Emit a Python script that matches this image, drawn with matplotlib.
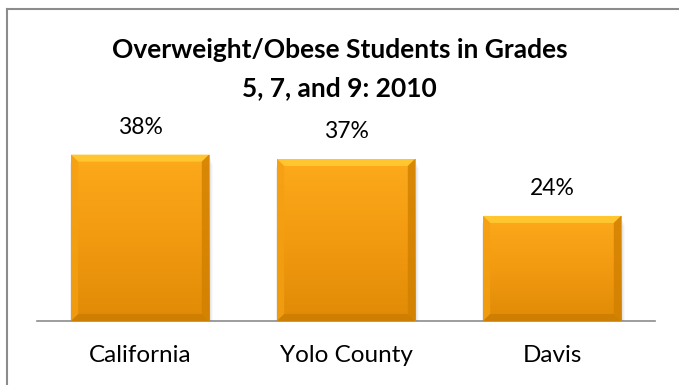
import numpy as np
import matplotlib.pyplot as plt
from matplotlib.patches import Polygon, Rectangle
from matplotlib.colors import LinearSegmentedColormap
from matplotlib.lines import Line2D

regions = ['California', 'Yolo County', 'Davis']
pct = [38, 37, 24]
labels = ['38%', '37%', '24%']

plt.rcParams['font.family'] = ['Lato', 'DejaVu Sans']

fig = plt.figure(figsize=(6.79, 3.85), dpi=100)
ax = fig.add_axes([37 / 679, 64 / 385, 618 / 679, 197 / 385])

x = np.arange(len(regions))
width = 0.67
ylim_top = 45

# body gradient, lighter at the top
body = LinearSegmentedColormap.from_list('body', ['#e08a06', '#f29a10', '#fdaa1c'])
grad = np.linspace(0, 1, 256).reshape(-1, 1)

bars = ax.bar(x, pct, width, color='#f5a015', zorder=3, linewidth=0)

for b in bars:
    x0, w, h = b.get_x(), b.get_width(), b.get_height()
    x1 = x0 + w
    # soft shadow under the bar
    for k, a in enumerate([0.10, 0.07, 0.05, 0.03]):
        ax.add_patch(Rectangle((x0 + 0.005 - k * 0.004, -0.6 - k * 0.5),
                               w + k * 0.008, h, color='#505050',
                               alpha=a, lw=0, zorder=2))
    im = ax.imshow(grad, cmap=body, extent=(x0, x1, 0, h), origin='lower',
                   aspect='auto', zorder=3.5)
    im.set_clip_path(b)

    # bevel edges
    bx, by = 0.035, 1.6
    top = Polygon([(x0, h), (x1, h), (x1 - bx, h - by), (x0 + bx, h - by)],
                  closed=True, color='#ffc630', lw=0, zorder=4)
    left = Polygon([(x0, h), (x0 + bx, h - by), (x0 + bx, by), (x0, 0)],
                   closed=True, color='#f4a012', lw=0, zorder=4, alpha=0.8)
    right = Polygon([(x1, h), (x1 - bx, h - by), (x1 - bx, by), (x1, 0)],
                    closed=True, color='#d08000', lw=0, zorder=4, alpha=0.8)
    bottom = Polygon([(x0, 0), (x1, 0), (x1 - bx, by), (x0 + bx, by)],
                     closed=True, color='#c87a00', lw=0, zorder=4, alpha=0.75)
    for p in (top, left, right, bottom):
        ax.add_patch(p)

for xi, v, t in zip(x, pct, labels):
    ax.annotate(t, (xi, v), xytext=(0, 12), textcoords='offset points',
                ha='center', va='bottom', fontsize=16.5, color='#000000')

ax.set_xlim(-0.5, 2.5)
ax.set_ylim(0, ylim_top)
ax.set_yticks([])
ax.set_xticks(x)
ax.set_xticklabels(regions, fontsize=17.5)
ax.tick_params(axis='x', length=0, pad=17)
for s in ['top', 'right', 'left']:
    ax.spines[s].set_visible(False)
ax.spines['bottom'].set_color('#8c8c8c')
ax.spines['bottom'].set_linewidth(1.2)
ax.spines['bottom'].set_zorder(1)

fig.text(0.5, 1 - 50 / 385, 'Overweight/Obese Students in Grades',
         ha='center', va='center', fontsize=19, fontweight='bold')
fig.text(0.5, 1 - 88 / 385, '5, 7, and 9: 2010',
         ha='center', va='center', fontsize=19, fontweight='bold')

# chart frame, left and top edges
fig.add_artist(Line2D([6.5 / 679, 6.5 / 679], [0, 1 - 9 / 385],
                      color='#8c8c8c', lw=1.5, transform=fig.transFigure))
fig.add_artist(Line2D([6.5 / 679, 1], [1 - 9 / 385, 1 - 9 / 385],
                      color='#8c8c8c', lw=1.5, transform=fig.transFigure))

fig.savefig('out.png', dpi=100)
